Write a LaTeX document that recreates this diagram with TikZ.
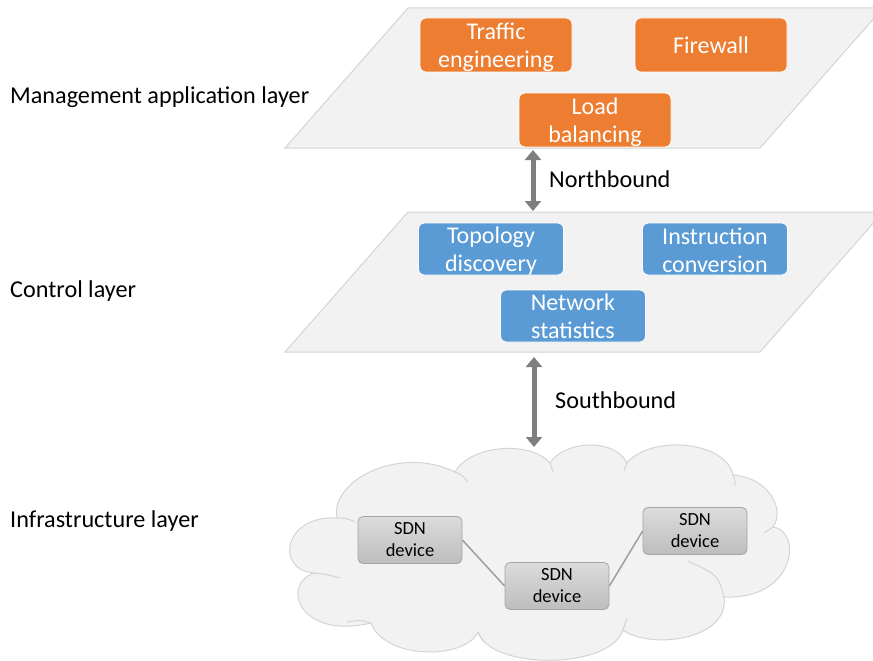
\documentclass[tikz,border=0pt]{standalone}
\usepackage{fontspec}
\setmainfont{Carlito}
\usetikzlibrary{arrows.meta}
\definecolor{planefill}{HTML}{F2F2F2}
\definecolor{planeedge}{HTML}{D4D4D4}
\definecolor{apporange}{HTML}{ED7D31}
\definecolor{ctlblue}{HTML}{5B9BD5}
\definecolor{arrowgray}{HTML}{7F7F7F}
\definecolor{devtop}{HTML}{DCDCDC}
\definecolor{devbot}{HTML}{BDBDBD}
\definecolor{devedge}{HTML}{A5A5A5}
\definecolor{linkgray}{HTML}{9E9E9E}
\begin{document}
\begin{tikzpicture}[x=1pt,y=-1pt,
  plane/.style={fill=planefill, draw=planeedge, line width=1pt},
  cloudbody/.style={fill=planefill, draw=planeedge, line width=1pt},
  cloudinner/.style={draw=planeedge, line width=1pt},
  funcbox/.style={draw=white, line width=0.8pt, rounded corners=6pt, inner sep=0pt},
  boxtext/.style={text=white, align=center, inner sep=0pt, font=\fontsize{24}{28}\selectfont},
  app/.style={funcbox, fill=apporange, minimum width=152pt, minimum height=54pt},
  ctl/.style={funcbox, fill=ctlblue, minimum width=145pt, minimum height=52pt},
  device/.style={draw=devedge, line width=0.8pt, rounded corners=5pt,
    top color=devtop, bottom color=devbot, minimum width=104pt, minimum height=47pt,
    align=center, inner sep=0pt, font=\fontsize{18.5}{22}\selectfont},
  layerlabel/.style={anchor=west, inner sep=0pt, font=\fontsize{24.2}{28}\selectfont},
  bus/.style={arrowgray, line width=5pt,
    {Triangle[width=16pt,length=10pt]}-{Triangle[width=16pt,length=10pt]}},
  link/.style={linkgray, line width=1.5pt}
]
\clip (0,0) rectangle (873,661);

% layer planes
\path[plane] (285,148) -- (760,148) -- (883,8) -- (408,8) -- cycle;
\path[plane] (285,352) -- (760,352) -- (883,212) -- (408,212) -- cycle;

% infrastructure cloud
\path[cloudbody] (314,573) .. controls (275,570) and (283,515) .. (337,518)
  .. controls (330,480) and (400,445) .. (455,472)
  .. controls (470,445) and (530,440) .. (550,463)
  .. controls (565,440) and (615,438) .. (627,463)
  .. controls (650,435) and (725,440) .. (733,475)
  .. controls (770,478) and (785,510) .. (773,527)
  .. controls (802,530) and (797,600) .. (724,597)
  .. controls (730,640) and (650,650) .. (623,630)
  .. controls (610,670) and (490,670) .. (478,632)
  .. controls (465,660) and (385,660) .. (371,623)
  .. controls (300,640) and (280,585) .. (314,573) -- cycle;
\draw[cloudinner] (337,518) .. controls (346,518) .. (355,522);
\draw[cloudinner] (455,472) .. controls (462,475) .. (468,482);
\draw[cloudinner] (550,463) .. controls (551,467) .. (553,472);
\draw[cloudinner] (627,463) .. controls (626,467) .. (624,471);
\draw[cloudinner] (733,475) .. controls (735,480) .. (735,486);
\draw[cloudinner] (773,527) .. controls (769,530) .. (764,533);
\draw[cloudinner] (724,597) .. controls (718,575) .. (688,561);
\draw[cloudinner] (623,630) .. controls (625,624) .. (627,618);
\draw[cloudinner] (478,632) .. controls (481,638) .. (486,643);
\draw[cloudinner] (371,623) .. controls (360,620) .. (347,622);
\draw[cloudinner] (314,573) .. controls (325,574) .. (340,578);

% management applications
\node[app] (te) at (496,45) {};
\node[app] (fw) at (711,45) {};
\node[app] (lb) at (595,120) {};
\node[boxtext] (tet) at ([yshift=-2.5pt]te.center) {Traffic\\engineering};
\node[boxtext] (fwt) at (fw.center) {Firewall};
\node[boxtext] (lbt) at ([yshift=-2.5pt]lb.center) {Load\\balancing};

% control functions
\node[ctl] (td) at (491,249) {};
\node[ctl] (ic) at (715,249) {};
\node[ctl] (ns) at (573,316) {};
\node[boxtext] (tdt) at ([yshift=-2.5pt]td.center) {Topology\\discovery};
\node[boxtext] (ict) at ([yshift=-1.5pt]ic.center) {Instruction\\conversion};
\node[boxtext] (nst) at (ns.center) {Network\\statistics};

% forwarding devices
\node[device] (d1) at (410,540) {SDN\\device};
\node[device] (d2) at (557,586) {SDN\\device};
\node[device] (d3) at (695,531) {SDN\\device};
\draw[link] (d1.east) -- (d2.west);
\draw[link] (d2.east) -- (d3.west);

% interfaces between layers
\coordinate (nbtop) at (533,150);
\coordinate (nbbot) at (533,211);
\coordinate (sbtop) at (534,357);
\coordinate (sbbot) at (534,447);
\draw[bus] (nbtop) -- (nbbot);
\draw[bus] (sbtop) -- (sbbot);
\node[layerlabel] (nbl) at (549,179) {Northbound};
\node[layerlabel] (sbl) at (555,400) {Southbound};

% layer names
\node[layerlabel] (mal) at (10,97) {Management application layer};
\node[layerlabel] (cl) at (10,291) {Control layer};
\node[layerlabel] (il) at (10,521) {Infrastructure layer};
\end{tikzpicture}
\end{document}
